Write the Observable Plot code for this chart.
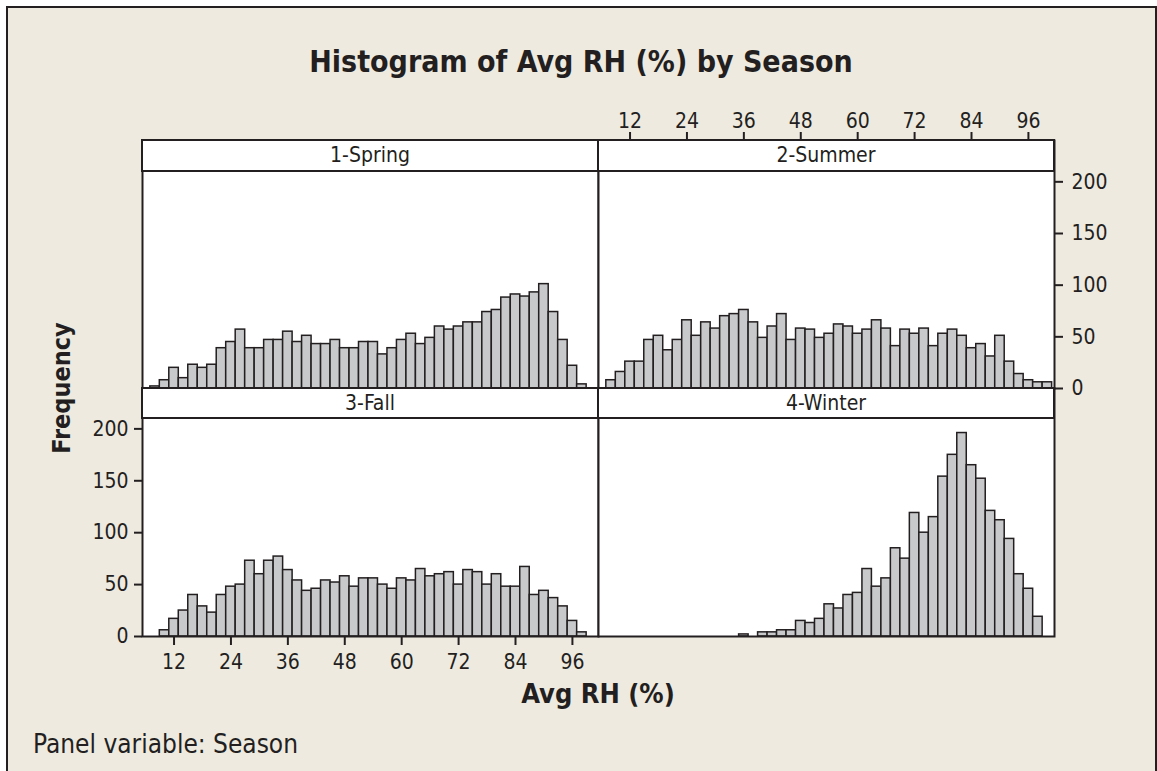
<!DOCTYPE html>
<html><head><meta charset="utf-8">
<script src="https://cdn.jsdelivr.net/npm/d3@7"></script>
<script src="https://cdn.jsdelivr.net/npm/@observablehq/plot@0.6"></script>
<style>
html,body{margin:0;padding:0;background:#fff;}
#page{position:relative;width:1157px;height:771px;overflow:hidden;font-family:"DejaVu Sans Condensed","DejaVu Sans",sans-serif;color:#231F20;}
#bg{position:absolute;left:6px;top:6px;width:1151px;height:800px;box-sizing:border-box;border:2px solid #231F20;border-bottom:none;background:#EEEAE0;}
.lbl{position:absolute;white-space:nowrap;}
.strip{position:absolute;box-sizing:border-box;border:2px solid #231F20;background:#fff;text-align:center;font-size:21px;}
</style></head><body>
<div id="page"><div id="bg"></div></div>
<script>
// Bin midpoints of Avg RH (%) (bins are 2 units wide)
const binMid = [8,10,12,14,16,18,20,22,24,26,28,30,32,34,36,38,40,42,44,46,48,50,52,54,56,58,60,62,64,66,68,70,72,74,76,78,80,82,84,86,88,90,92,94,96,98,100];
const binWidth = 2;
// Frequencies per bin, by season
const spring = [2,8,20,10,23,20,23,39,45,57,39,39,47,47,55,45,51,43,43,47,39,39,45,45,33,39,47,53,43,49,60,57,60,64,64,74,76,88,91,89,93,101,74,47,22,4,0];
const summer = [8,16,26,26,47,51,37,47,66,51,64,58,70,72,76,64,49,60,72,47,58,57,49,53,62,60,53,57,66,58,41,57,53,58,41,53,57,51,39,43,31,51,26,14,8,6,6];
const fall   = [0,6,17,25,40,29,23,40,48,50,73,60,73,77,64,54,44,46,54,52,58,48,56,56,50,46,56,54,65,58,60,62,50,64,62,50,60,48,48,67,40,44,37,29,15,4,0];
const winter = [0,0,0,0,0,0,0,0,0,0,0,0,0,0,2,0,4,4,6,6,15,13,17,31,27,40,42,65,48,56,85,75,119,100,115,154,175,196,165,152,121,112,94,60,46,19,0];
const seasons = ["1-Spring","2-Summer","3-Fall","4-Winter"];
const xTicks = [12,24,36,48,60,72,84,96];
const yTicks = [0,50,100,150,200];
const xDomain = [5.35, 101.5];
const yDomain = [0, 210];

const INK = "#231F20";
const page = document.getElementById("page");

function addLabel(text, css) {
  const d = document.createElement("div");
  d.className = "lbl";
  d.textContent = text;
  Object.assign(d.style, css);
  page.appendChild(d);
  return d;
}

function panel(counts, o) {
  const W = 456, H = 248;
  const rows = binMid.map((m, i) => ({x1: m - binWidth / 2, x2: m + binWidth / 2, n: counts[i]})).filter(d => d.n > 0);
  const marks = [
    Plot.frame({fill: "white", stroke: null}),
    Plot.rectY(rows, {x1: "x1", x2: "x2", y1: 0, y2: "n", fill: "#C8C9CB", stroke: INK, strokeWidth: 1.5}),
    Plot.frame({stroke: INK, strokeWidth: 2})
  ];
  if (o.xAxis) marks.push(Plot.axisX(xTicks, {anchor: o.xAxis, tickSize: 9, tickPadding: o.xAxis === "top" ? 4 : 9, stroke: INK, strokeWidth: 2, fill: INK, label: null}));
  if (o.yAxis) marks.push(Plot.axisY(yTicks, {anchor: o.yAxis, tickSize: 8, tickPadding: o.yAxis === "left" ? 6 : 9, stroke: INK, strokeWidth: 2, fill: INK, label: null}));
  const svg = Plot.plot({
    width: o.mL + W + o.mR,
    height: o.mT + H + o.mB,
    marginLeft: o.mL, marginRight: o.mR, marginTop: o.mT, marginBottom: o.mB,
    x: {domain: xDomain, ...(o.xAxis ? {} : {axis: null})},
    y: {domain: yDomain, range: [o.mT + H, o.mT + o.strip], ...(o.yAxis ? {} : {axis: null})},
    style: {background: "transparent", fontFamily: '"DejaVu Sans Condensed","DejaVu Sans",sans-serif', fontSize: "21px", color: INK, overflow: "visible"},
    marks
  });
  svg.style.position = "absolute";
  svg.style.left = (o.fx - o.mL) + "px";
  svg.style.top = (o.fy - o.mT) + "px";
  page.appendChild(svg);
}

panel(spring, {fx: 142, fy: 140, mL: 2, mR: 2, mT: 2, mB: 2, strip: 31});
panel(summer, {fx: 598, fy: 140, mL: 2, mR: 100, mT: 45, mB: 2, strip: 31, xAxis: "top", yAxis: "right"});
panel(fall,   {fx: 142, fy: 388, mL: 100, mR: 2, mT: 2, mB: 45, strip: 30, xAxis: "bottom", yAxis: "left"});
panel(winter, {fx: 598, fy: 388, mL: 2, mR: 2, mT: 2, mB: 2, strip: 30});

// strips
const strips = [[141, 139, 33], [597, 139, 33], [141, 387, 32], [597, 387, 32]];
seasons.forEach((s, i) => {
  const [l, t, h] = strips[i];
  const d = document.createElement("div");
  d.className = "strip";
  d.textContent = s;
  Object.assign(d.style, {left: l + "px", top: t + "px", width: "458px", height: h + "px", lineHeight: (h - 4) + "px"});
  page.appendChild(d);
});

addLabel("Histogram of Avg RH (%) by Season", {left: "0px", width: "1162px", textAlign: "center", top: "42px", lineHeight: "40px", fontSize: "30px", fontWeight: "bold"});
addLabel("Frequency", {left: "-38px", top: "373px", width: "200px", lineHeight: "30px", textAlign: "center", fontSize: "25px", fontWeight: "bold", transform: "rotate(-90deg)"});
addLabel("Avg RH (%)", {left: "398px", top: "679px", width: "400px", lineHeight: "30px", textAlign: "center", fontSize: "27px", fontWeight: "bold"});
addLabel("Panel variable: Season", {left: "33px", top: "729px", lineHeight: "30px", fontSize: "26px"});
</script>
</body></html>
